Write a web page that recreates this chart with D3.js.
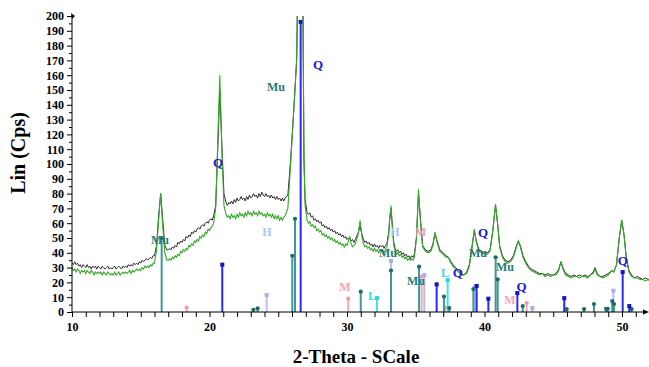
<!DOCTYPE html>
<html><head><meta charset="utf-8">
<script src="https://cdn.jsdelivr.net/npm/d3@7"></script>
<style>body{margin:0;background:#fff}svg{display:block}</style>
</head><body><svg id="c" width="649" height="367"></svg>
<script>
// ---- data: [2-theta, counts] ----
const scanBlack = [
[10.0,33],[10.1,32],[10.2,34],[10.3,32],[10.4,33],[10.5,31],[10.6,32],[10.7,30],[10.8,32],[10.9,31],[11.0,30],[11.1,32],[11.2,30],[11.3,31],[11.4,29],[11.5,31],[11.6,30],[11.7,31],[11.8,29],[11.9,31],
[12.0,30],[12.1,29],[12.2,31],[12.3,30],[12.4,29],[12.5,30],[12.6,31],[12.7,29],[12.8,30],[12.9,29],[13.0,30],[13.1,31],[13.2,29],[13.3,30],[13.4,31],[13.5,30],[13.6,29],[13.7,31],[13.8,30],[13.9,31],
[14.0,30],[14.1,32],[14.2,31],[14.3,32],[14.4,31],[14.5,33],[14.6,32],[14.7,33],[14.8,32],[14.9,34],[15.0,33],[15.1,35],[15.2,34],[15.3,35],[15.4,36],[15.5,35],[15.6,36],[15.7,37],[15.8,36],[15.9,38],[16.0,38],
[16.15,45],[16.3,65],[16.45,80],[16.6,62],[16.75,45],[16.9,42],
[17.0,42],[17.1,43],[17.2,42],[17.3,44],[17.4,43],[17.5,45],[17.6,44],[17.7,47],[17.8,46],[17.9,48],[18.0,47],[18.1,49],[18.2,48],[18.3,51],[18.4,50],[18.5,52],[18.6,51],[18.7,54],[18.8,53],[18.9,55],
[19.0,54],[19.1,56],[19.2,57],[19.3,56],[19.4,58],[19.5,59],[19.6,58],[19.7,60],[19.8,61],[19.9,60],[20.0,62],[20.1,63],[20.2,62],[20.3,65],
[20.45,72],[20.6,110],[20.75,150],[20.9,112],[21.05,80],
[21.2,74],[21.3,72],[21.4,74],[21.5,73],[21.6,75],[21.7,73],[21.8,76],[21.9,74],[22.0,77],[22.1,75],[22.2,76],[22.3,78],[22.4,76],[22.5,77],[22.6,75],[22.7,78],[22.8,76],[22.9,79],
[23.0,77],[23.1,78],[23.2,80],[23.3,78],[23.4,79],[23.5,77],[23.6,80],[23.7,78],[23.8,81],[23.9,79],[24.0,78],[24.1,80],[24.2,78],[24.3,79],[24.4,77],[24.5,79],[24.6,77],[24.7,78],[24.8,76],[24.9,78],
[25.0,76],[25.1,77],[25.2,75],[25.3,77],[25.4,75],[25.5,77],
[25.7,79],[25.9,103],[26.05,125],[26.2,148],[26.34,170],[26.45,240],[26.6,380],[26.72,300],[26.82,170],[26.87,103],[26.95,76],
[27.1,67],[27.2,66],[27.3,67],[27.4,64],[27.5,65],[27.6,62],[27.7,63],[27.8,61],[27.9,62],[28.0,60],[28.1,61],[28.2,58],[28.3,59],[28.4,57],[28.5,58],[28.6,56],[28.7,57],[28.8,55],[28.9,56],
[29.0,54],[29.1,55],[29.2,53],[29.3,54],[29.4,52],[29.5,53],[29.6,51],[29.7,52],[29.8,50],[29.9,51],[30.0,49],[30.1,50],[30.2,50],[30.3,48],[30.4,49],[30.5,47],[30.6,49],
[30.8,53],[30.95,58],[31.1,52],
[31.2,49],[31.3,47],[31.4,48],[31.5,46],[31.6,47],[31.7,45],[31.8,46],[31.9,44],[32.0,46],[32.1,44],[32.2,45],[32.3,43],[32.4,45],[32.5,44],[32.6,45],[32.7,43],[32.8,45],[32.9,46],
[33.05,55],[33.1,62],[33.2,70],[33.3,58],[33.4,47],
[33.5,43],[33.6,41],[33.7,42],[33.8,40],[33.9,41],[34.0,39],[34.1,40],[34.2,38],[34.3,39],[34.4,37],[34.5,38],[34.6,36],[34.7,38],[34.8,37],[34.9,39],
[35.05,50],[35.2,80],[35.35,62],[35.5,45],
[35.7,42],[35.9,41],[36.1,42],[36.25,46],[36.4,53],[36.55,48],[36.75,42],[37.0,40],[37.2,38],[37.37,37],[37.5,35],[37.7,32],[37.9,30],[38.1,28],[38.3,26],[38.5,25],[38.7,27],[38.9,32],
[39.1,45],[39.26,55],[39.4,48],[39.6,42],[39.8,41],[40.0,40],[40.2,40],[40.4,42],[40.6,55],[40.8,72],[40.95,60],[41.1,45],[41.3,38],[41.5,35],[41.7,34],[41.9,35],
[42.1,38],[42.3,44],[42.46,48],[42.6,45],[42.8,38],[43.0,34],[43.2,31],[43.4,29],[43.6,28],[43.8,27],[44.0,26],[44.2,26],[44.4,25],[44.6,26],[44.8,25],[45.0,25],[45.2,26],[45.4,29],
[45.56,34],[45.7,30],[45.9,26],[46.1,25],[46.3,24],[46.5,25],[46.7,24],[46.9,25],[47.1,24],[47.3,25],[47.5,24],[47.7,25],[47.9,27],[48.04,30],[48.2,26],[48.4,24],[48.6,24],[48.8,25],
[49.0,26],[49.25,28],[49.4,27],[49.6,32],[49.8,50],[49.98,62],[50.15,52],[50.3,38],[50.5,28],[50.7,25],[50.9,23],[51.1,24],[51.3,23],[51.5,22],[51.7,23],[51.9,22],[52.0,22]
];
const scanGreen = [
[10.0,30],[10.1,28],[10.2,29],[10.3,27],[10.4,29],[10.5,28],[10.6,26],[10.7,28],[10.8,27],[10.9,28],[11.0,26],[11.1,28],[11.2,27],[11.3,26],[11.4,28],[11.5,27],[11.6,25],[11.7,27],[11.8,26],[11.9,27],
[12.0,26],[12.1,27],[12.2,25],[12.3,27],[12.4,26],[12.5,25],[12.6,27],[12.7,26],[12.8,25],[12.9,26],[13.0,25],[13.1,27],[13.2,25],[13.3,26],[13.4,27],[13.5,25],[13.6,26],[13.7,27],[13.8,26],[13.9,27],
[14.0,26],[14.1,27],[14.2,28],[14.3,26],[14.4,28],[14.5,27],[14.6,28],[14.7,29],[14.8,28],[14.9,29],[15.0,28],[15.1,30],[15.2,29],[15.3,31],[15.4,30],[15.5,31],[15.6,30],[15.7,32],[15.8,31],[15.9,33],[16.0,33],
[16.15,42],[16.3,62],[16.45,80],[16.6,58],[16.75,40],[16.9,35],
[17.0,35],[17.1,36],[17.2,35],[17.3,37],[17.4,36],[17.5,38],[17.6,37],[17.7,39],[17.8,38],[17.9,41],[18.0,40],[18.1,42],[18.2,41],[18.3,43],[18.4,42],[18.5,45],[18.6,44],[18.7,46],[18.8,45],[18.9,48],
[19.0,47],[19.1,49],[19.2,48],[19.3,51],[19.4,50],[19.5,52],[19.6,51],[19.7,54],[19.8,53],[19.9,56],[20.0,55],[20.1,57],[20.2,58],[20.3,60],
[20.45,70],[20.6,115],[20.75,160],[20.9,110],[21.05,72],
[21.2,66],[21.3,64],[21.4,65],[21.5,63],[21.6,66],[21.7,64],[21.8,65],[21.9,63],[22.0,66],[22.1,64],[22.2,67],[22.3,65],[22.4,66],[22.5,64],[22.6,67],[22.7,65],[22.8,68],[22.9,66],
[23.0,67],[23.1,65],[23.2,68],[23.3,66],[23.4,67],[23.5,65],[23.6,68],[23.7,66],[23.8,67],[23.9,65],[24.0,66],[24.1,64],[24.2,67],[24.3,65],[24.4,66],[24.5,64],[24.6,66],[24.7,63],[24.8,65],[24.9,63],
[25.0,65],[25.1,62],[25.2,64],[25.3,62],[25.4,64],[25.5,65],
[25.7,70],[25.9,100],[26.05,124],[26.2,147],[26.34,172],[26.45,250],[26.6,390],[26.72,310],[26.82,175],[26.87,105],[26.95,72],
[27.1,62],[27.2,60],[27.3,61],[27.4,58],[27.5,59],[27.6,57],[27.7,58],[27.8,55],[27.9,56],[28.0,54],[28.1,55],[28.2,52],[28.3,53],[28.4,51],[28.5,52],[28.6,50],[28.7,51],[28.8,49],[28.9,50],
[29.0,48],[29.1,49],[29.2,47],[29.3,48],[29.4,46],[29.5,47],[29.6,45],[29.7,46],[29.8,44],[29.9,46],[30.0,45],[30.1,48],[30.2,51],[30.3,46],[30.4,44],[30.5,45],[30.6,46],
[30.8,52],[30.95,62],[31.1,50],
[31.2,46],[31.3,44],[31.4,45],[31.5,43],[31.6,44],[31.7,42],[31.8,43],[31.9,41],[32.0,43],[32.1,41],[32.2,42],[32.3,40],[32.4,42],[32.5,41],[32.6,42],[32.7,40],[32.8,42],[32.9,44],
[33.05,54],[33.1,63],[33.2,72],[33.3,57],[33.4,45],
[33.5,41],[33.6,39],[33.7,40],[33.8,38],[33.9,39],[34.0,37],[34.1,38],[34.2,36],[34.3,37],[34.4,35],[34.5,36],[34.6,35],[34.7,36],[34.8,35],[34.9,37],
[35.05,50],[35.2,83],[35.35,60],[35.5,44],
[35.7,41],[35.9,40],[36.1,41],[36.25,45],[36.4,54],[36.55,47],[36.75,41],[37.0,39],[37.2,37],[37.37,37],[37.5,34],[37.7,31],[37.9,29],[38.1,27],[38.3,25],[38.5,25],[38.7,26],[38.9,31],
[39.1,44],[39.26,56],[39.4,47],[39.6,41],[39.8,40],[40.0,39],[40.2,39],[40.4,41],[40.6,54],[40.8,73],[40.95,60],[41.1,44],[41.3,37],[41.5,34],[41.7,33],[41.9,34],
[42.1,37],[42.3,43],[42.46,48],[42.6,44],[42.8,37],[43.0,33],[43.2,30],[43.4,28],[43.6,27],[43.8,26],[44.0,25],[44.2,26],[44.4,24],[44.6,25],[44.8,24],[45.0,25],[45.2,25],[45.4,28],
[45.56,34],[45.7,29],[45.9,25],[46.1,24],[46.3,23],[46.5,24],[46.7,24],[46.9,23],[47.1,24],[47.3,24],[47.5,23],[47.7,25],[47.9,26],[48.04,29],[48.2,25],[48.4,24],[48.6,23],[48.8,24],
[49.0,25],[49.25,28],[49.4,27],[49.6,32],[49.8,50],[49.98,62],[50.15,52],[50.3,37],[50.5,27],[50.7,24],[50.9,23],[51.1,23],[51.3,22],[51.5,22],[51.7,21],[51.9,22],[52.0,21]
];

// reference sticks [2-theta, intensity]
const stickMu = [[16.52,50],[23.19,1.5],[23.5,2.5],[26.02,38],[26.22,63],[31.0,13.7],[33.2,28],[35.24,30.6],[37.05,10.4],[37.44,2.7],[39.19,15.5],[40.81,37],[40.96,22],[42.78,4],[45.98,2],[47.24,2],[47.96,5.4],[48.84,2.2],[48.96,2.2],[49.29,7.4],[49.42,5.4],[50.7,2]];
const stickQ  = [[20.93,32],[26.63,196],[36.52,18.7],[39.43,17.6],[40.28,9],[42.39,12.8],[45.8,9.4],[50.05,27],[50.53,4]];
const stickH  = [[24.16,11.5],[33.2,34.5],[35.62,25],[39.31,17],[43.48,2.7],[49.37,14.4]];
const stickM  = [[18.34,3],[30.09,9],[35.43,24],[37.13,3],[43.07,6]];
const stickL  = [[32.18,9.4],[37.32,21.6]];

// phase labels [text, phase, 2-theta, intensity]
const phaseLabels = [
  ["Q","Q",20.62,101],["Mu","Mu",24.84,152],["Q","Q",27.89,167],["H","H",24.18,54],["Mu","Mu",16.4,48.6],
  ["H","H",33.49,54],["M","M",35.36,54],["Mu","Mu",32.98,40],["Q","Q",39.89,54],["Mu","Mu",39.53,40],
  ["Mu","Mu",35.02,21],["L","L",37.13,26.4],["Q","Q",38.05,26.6],["Mu","Mu",41.49,30.4],["M","M",29.85,16.9],
  ["L","L",31.82,10.8],["Q","Q",42.7,16.9],["M","M",41.85,8.1],["Q","Q",50.05,35]
];

const xTickLabels = [10,20,30,40,50];
const yTickLabels = [0,10,20,30,40,50,60,70,80,90,100,110,120,130,140,150,160,170,180,190,200];
const xTitle = "2-Theta - SCale";
const yTitle = "Lin (Cps)";

// ---- drawing ----
const svg = d3.select("#c");
const FONT = "'Liberation Serif','Times New Roman',serif";
const x = d3.scaleLinear().domain([10,52]).range([72,649.5]);
const y = d3.scaleLinear().domain([0,200]).range([312,16]);

svg.append("defs").append("clipPath").attr("id","pc")
  .append("rect").attr("x",72).attr("y",16).attr("width",577).attr("height",296);

const phaseStyle = {
  H:{line:"#b9bdf5",dot:"#a9aef2",label:"#a8c6f2",shape:"rect"},
  M:{line:"#f6aab2",dot:"#f49aa6",label:"#f4a3b6",shape:"circle"},
  L:{line:"#3fe3e3",dot:"#2cd6d6",label:"#33dcdc",shape:"rect"},
  Mu:{line:"#3f9893",dot:"#1c6b66",label:"#1f7c78",shape:"circle"},
  Q:{line:"#2a2af0",dot:"#1212c8",label:"#1b1bd0",shape:"rect"}
};
const stickSets = [["H",stickH],["M",stickM],["L",stickL],["Mu",stickMu],["Q",stickQ]];
const gs = svg.append("g");
stickSets.forEach(([ph,arr])=>{
  const st = phaseStyle[ph];
  const g = gs.append("g");
  g.selectAll("line").data(arr).join("line")
    .attr("x1",d=>x(d[0])).attr("x2",d=>x(d[0]))
    .attr("y1",y(0)).attr("y2",d=>y(d[1]))
    .attr("stroke",st.line).attr("stroke-width",2);
  if (st.shape==="rect") {
    g.selectAll("rect").data(arr).join("rect")
      .attr("x",d=>x(d[0])-2).attr("y",d=>y(d[1])-2).attr("width",4).attr("height",4)
      .attr("fill",st.dot);
  } else {
    g.selectAll("circle").data(arr).join("circle")
      .attr("cx",d=>x(d[0])).attr("cy",d=>y(d[1])).attr("r",2.1)
      .attr("fill",st.dot);
  }
});

const line = d3.line().x(d=>x(d[0])).y(d=>y(d[1]));
const gc = svg.append("g").attr("clip-path","url(#pc)");
gc.append("path").attr("d",line(scanBlack)).attr("fill","none").attr("stroke","#2a2a2a").attr("stroke-width",1);
gc.append("path").attr("d",line(scanGreen)).attr("fill","none").attr("stroke","#36a82a").attr("stroke-width",1.1);

// labels
svg.append("g").selectAll("text").data(phaseLabels).join("text")
  .attr("x",d=>x(d[2])).attr("y",d=>y(d[3]))
  .attr("text-anchor","middle").attr("dominant-baseline","central")
  .attr("font-family",FONT).attr("font-weight","bold")
  .attr("font-size",d=>d[1]==="Q"?13:12)
  .attr("fill",d=>phaseStyle[d[1]].label)
  .text(d=>d[0]);

// axes
const xTicks = d3.range(10,53,1);
const xAxis = d3.axisBottom(x).tickValues(xTicks).tickSize(5).tickSizeOuter(0)
  .tickFormat(d=>xTickLabels.includes(d)?d:"");
const gx = svg.append("g").attr("transform",`translate(0,${y(0)})`).call(xAxis);
gx.select(".domain").remove();
gx.selectAll("line").attr("stroke","#000");
gx.selectAll("text").attr("font-family",FONT).attr("font-weight","bold").attr("font-size",12).attr("fill","#000").attr("dy","0.9em");
svg.append("line").attr("x1",72).attr("x2",645).attr("y1",y(0)).attr("y2",y(0)).attr("stroke","#000");
svg.append("path").attr("d",`M643,${y(0)-2.5}L649,${y(0)}L643,${y(0)+2.5}Z`).attr("fill","#000");

const yTicks = d3.range(0,201,5);
const yAxis = d3.axisLeft(y).tickValues(yTicks).tickSize(5).tickSizeOuter(0)
  .tickFormat(d=>yTickLabels.includes(d)?d:"");
const gy = svg.append("g").attr("transform","translate(72,0)").call(yAxis);
gy.select(".domain").remove();
gy.selectAll(".tick").filter(d=>!yTickLabels.includes(d)).select("line").attr("x2",-3);
gy.selectAll("line").attr("stroke","#000");
gy.selectAll("text").attr("font-family",FONT).attr("font-weight","bold").attr("font-size",12).attr("fill","#000").attr("x",-8);
svg.append("line").attr("x1",72).attr("x2",72).attr("y1",y(0)).attr("y2",15).attr("stroke","#000");
svg.append("path").attr("d","M71,13L75,16L72,19Z").attr("fill","#000");

// titles
svg.append("text").attr("x",356).attr("y",363).attr("text-anchor","middle")
  .attr("font-family",FONT).attr("font-weight","bold").attr("font-size",19).text(xTitle);
svg.append("text").attr("transform","translate(25,153) rotate(-90)").attr("text-anchor","middle")
  .attr("font-family",FONT).attr("font-weight","bold").attr("font-size",20).text(yTitle);
</script></body></html>
